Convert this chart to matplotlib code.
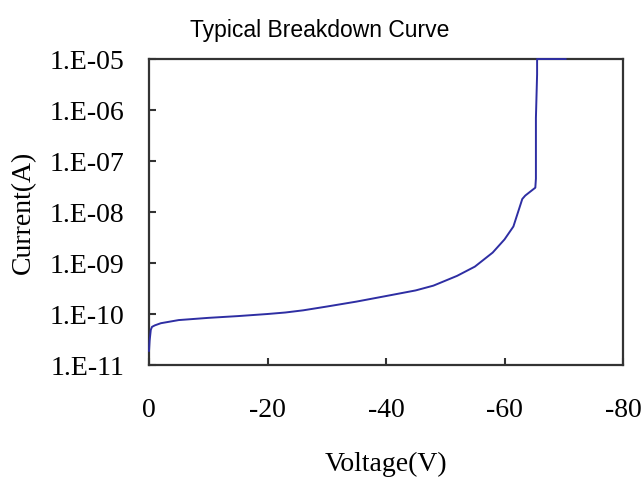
import matplotlib
matplotlib.use("Agg")
import matplotlib.pyplot as plt
import matplotlib.ticker as mticker

# DATA
voltage = [0.0, -0.1, -0.3, -0.5, -1.0, -2.0, -5.0, -10.0, -15.0, -20.0, -23.0,
           -26.0, -30.0, -35.0, -40.0, -45.0, -48.0, -52.0, -55.0, -58.0, -60.0,
           -61.5, -63.0, -63.5, -65.2, -65.3, -65.3, -65.3, -65.5, -65.5, -70.3]
current = [1.9e-11, 3.0e-11, 4.9e-11, 5.6e-11, 6.0e-11, 6.6e-11, 7.6e-11, 8.4e-11,
           9.1e-11, 1.0e-10, 1.07e-10, 1.18e-10, 1.4e-10, 1.75e-10, 2.25e-10,
           2.9e-10, 3.6e-10, 5.6e-10, 8.5e-10, 1.6e-09, 2.9e-09, 5.2e-09, 1.8e-08,
           2.1e-08, 3.0e-08, 4.5e-08, 1.0e-07, 7.0e-07, 5.0e-06, 1.0e-05, 1.0e-05]

y_ticks = [1e-11, 1e-10, 1e-09, 1e-08, 1e-07, 1e-06, 1e-05]
y_tick_labels = ["1.E-11", "1.E-10", "1.E-09", "1.E-08", "1.E-07", "1.E-06", "1.E-05"]
x_ticks = [0, -20, -40, -60, -80]
x_tick_labels = ["0", "-20", "-40", "-60", "-80"]

serif = ["Liberation Serif", "DejaVu Serif"]

fig = plt.figure(figsize=(6.44, 4.83), dpi=100)
ax = fig.add_axes([0.2314, 0.2443, 0.736, 0.6335])

ax.plot(voltage, current, color="#2e2ea3", linewidth=1.4, zorder=3, clip_on=False)

ax.set_yscale("log")
ax.set_ylim(1e-11, 1e-05)
ax.set_xlim(0, -80)

ax.yaxis.set_minor_locator(mticker.NullLocator())
ax.set_yticks(y_ticks)
ax.set_yticklabels(y_tick_labels, fontfamily=serif, fontsize=20)
ax.set_xticks(x_ticks)
ax.set_xticklabels(x_tick_labels, fontfamily=serif, fontsize=20)

ax.tick_params(axis="both", direction="in", length=5, width=1.5, color="#333333")
ax.tick_params(axis="y", pad=18)
ax.tick_params(axis="x", pad=24)

for side in ["left", "right", "top", "bottom"]:
    ax.spines[side].set_linewidth(1.6)
    ax.spines[side].set_color("#333333")

ax.set_xlabel("Voltage(V)", fontfamily=serif, fontsize=20)
ax.xaxis.set_label_coords(0.5, -0.284)
ax.set_ylabel("Current(A)", fontfamily=serif, fontsize=20)
ax.yaxis.set_label_coords(-0.238, 0.5)

fig.text(0.497, 0.937, "Typical Breakdown Curve", ha="center", va="center",
         fontfamily=["Liberation Sans", "DejaVu Sans"], fontsize=16.5)

fig.savefig("out.png", dpi=100)
